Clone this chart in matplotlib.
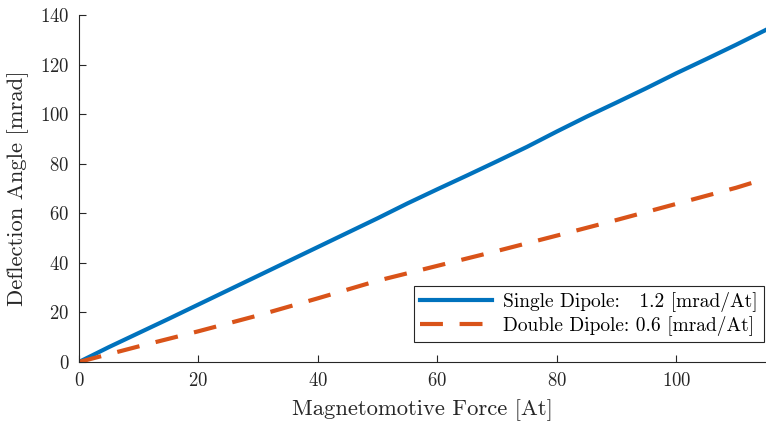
import matplotlib
matplotlib.use("Agg")
import matplotlib.pyplot as plt

# measured values
force_single = [0, 5, 10, 15, 20, 25, 30, 35, 40, 45, 50, 55, 60, 65, 70, 75, 80, 85, 90, 95, 100, 105, 110, 115]
angle_single = [0, 6.0, 11.7, 17.4, 23.2, 29.0, 34.8, 40.6, 46.4, 52.2, 58.0, 64.0, 69.7, 75.3, 81.0, 86.8, 93.0, 99.0, 104.7, 110.5, 116.5, 122.2, 128.0, 134.0]
force_double = [0, 10, 20, 30, 40, 50, 60, 70, 80, 90, 100, 110, 115]
angle_double = [0, 6.3, 12.4, 18.8, 25.7, 32.8, 38.8, 44.8, 51.0, 57.3, 63.8, 70.3, 74.0]

xticks = [0, 20, 40, 60, 80, 100]
yticks = [0, 20, 40, 60, 80, 100, 120, 140]

plt.rcParams['font.family'] = 'serif'
plt.rcParams['font.serif'] = ['cmr10']
plt.rcParams['mathtext.fontset'] = 'cm'
plt.rcParams['axes.formatter.use_mathtext'] = True


def main():
    fig = plt.figure(figsize=(7.66, 4.22), dpi=100)
    ax = fig.add_axes([0.1031, 0.1422, 0.8969, 0.8223])

    ax.plot(force_single, angle_single, color='#0072BD', linewidth=3,
            label='Single Dipole:   1.2 [mrad/At]')
    ax.plot(force_double, angle_double, color='#D95319', linewidth=3,
            linestyle=(0, (5.5, 4)), label='Double Dipole: 0.6 [mrad/At]')

    ax.set_xlim(0, 115)
    ax.set_ylim(0, 140)
    ax.set_xticks(xticks)
    ax.set_yticks(yticks)

    ax.set_xlabel('Magnetomotive Force [At]', fontsize=16.3, color='#262626', labelpad=7)
    ax.set_ylabel('Deflection Angle [mrad]', fontsize=16.3, color='#262626', labelpad=8)

    for side in ['top', 'right']:
        ax.spines[side].set_visible(False)
    for side in ['left', 'bottom']:
        ax.spines[side].set_color('#262626')
        ax.spines[side].set_linewidth(0.8)
    ax.tick_params(direction='in', length=5, width=0.8, colors='#262626',
                   labelsize=13.5, pad=7)

    leg = ax.legend(loc='lower right', fontsize=14, fancybox=False,
                    edgecolor='#262626', framealpha=1, handlelength=3.7,
                    borderpad=0.3, labelspacing=0.2, handletextpad=0.6,
                    borderaxespad=0, bbox_to_anchor=(0.997, 0.058))
    leg.get_frame().set_linewidth(0.8)

    fig.savefig('out.png', dpi=100)


if __name__ == "__main__":
    main()
